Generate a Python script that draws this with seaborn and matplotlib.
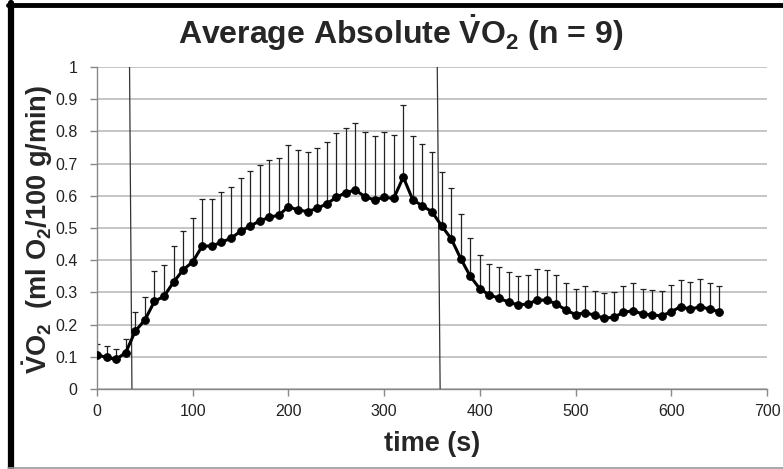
import numpy as np
import pandas as pd
import matplotlib
matplotlib.use("Agg")
import matplotlib.pyplot as plt
import seaborn as sns
from matplotlib.lines import Line2D

# ---- data ----
time_s = list(range(0, 660, 10))
vo2_mean = [0.106, 0.098, 0.092, 0.113, 0.180, 0.214, 0.272, 0.288, 0.332, 0.370,
            0.395, 0.444, 0.444, 0.456, 0.468, 0.490, 0.506, 0.522, 0.533, 0.540,
            0.566, 0.556, 0.551, 0.561, 0.575, 0.595, 0.610, 0.618, 0.597, 0.587,
            0.595, 0.592, 0.658, 0.587, 0.569, 0.550, 0.507, 0.467, 0.405, 0.350,
            0.311, 0.292, 0.282, 0.270, 0.261, 0.264, 0.276, 0.276, 0.264, 0.245,
            0.231, 0.237, 0.229, 0.220, 0.223, 0.238, 0.243, 0.233, 0.230, 0.227,
            0.240, 0.256, 0.247, 0.256, 0.248, 0.240]
vo2_upper = [0.141, 0.133, 0.125, 0.154, 0.240, 0.287, 0.365, 0.386, 0.443, 0.490,
             0.530, 0.591, 0.591, 0.612, 0.627, 0.654, 0.678, 0.696, 0.712, 0.718,
             0.759, 0.743, 0.735, 0.750, 0.768, 0.794, 0.812, 0.825, 0.799, 0.785,
             0.797, 0.790, 0.881, 0.785, 0.762, 0.735, 0.675, 0.623, 0.543, 0.470,
             0.417, 0.388, 0.378, 0.364, 0.352, 0.354, 0.372, 0.370, 0.355, 0.328,
             0.312, 0.320, 0.305, 0.298, 0.301, 0.320, 0.328, 0.312, 0.308, 0.304,
             0.323, 0.340, 0.332, 0.343, 0.330, 0.320]
phase_x_top = [34.0, 355.5]
phase_x_bottom = [36.5, 358.5]
x_ticks = [0, 100, 200, 300, 400, 500, 600, 700]
y_ticks = [0, 0.1, 0.2, 0.3, 0.4, 0.5, 0.6, 0.7, 0.8, 0.9, 1.0]
y_tick_labels = ["0", "0.1", "0.2", "0.3", "0.4", "0.5", "0.6", "0.7", "0.8", "0.9", "1"]

df = pd.DataFrame({"time": time_s, "vo2": vo2_mean, "upper": vo2_upper})

sns.set_theme(style="white")
plt.rcParams["font.family"] = ["Liberation Sans", "DejaVu Sans"]
plt.rcParams["mathtext.fontset"] = "custom"
plt.rcParams["mathtext.rm"] = "Liberation Sans:bold"
plt.rcParams["mathtext.it"] = "Liberation Sans:bold"
plt.rcParams["mathtext.bf"] = "Liberation Sans:bold"

fig = plt.figure(figsize=(7.83, 4.69), dpi=100)
ax = fig.add_axes([97 / 783, 1 - 389 / 469, 670 / 783, 322 / 469])

# grid
ax.set_axisbelow(True)
ax.yaxis.grid(True, color="#c0c0c0", linewidth=1.3)
ax.xaxis.grid(False)

# error bars (upward only)
err_low = np.zeros(len(df))
err_up = df["upper"].values - df["vo2"].values
ax.errorbar(df["time"], df["vo2"], yerr=[err_low, err_up], fmt="none",
            ecolor="#222222", elinewidth=0.9, capsize=2.5, capthick=0.9, zorder=2)

sns.lineplot(data=df, x="time", y="vo2", ax=ax, color="black", linewidth=2.2,
             marker="o", markersize=5.5, markeredgecolor="black", zorder=3)

# phase lines
for xt, xb in zip(phase_x_top, phase_x_bottom):
    ax.plot([xb, xt], [0, 1], color="#333333", linewidth=0.9, zorder=2)

ax.set_xlim(0, 700)
ax.set_ylim(0, 1)
ax.set_xticks(x_ticks)
ax.set_yticks(y_ticks)
ax.set_yticklabels(y_tick_labels)
ax.tick_params(axis="both", labelsize=11.5, colors="#888888", labelcolor="#222222",
               length=5, width=1, direction="out")
ax.tick_params(axis="x", pad=6)
ax.tick_params(axis="y", pad=9)
ax.xaxis.set_ticks_position("bottom")
ax.yaxis.set_ticks_position("left")
for s in ["top", "right"]:
    ax.spines[s].set_visible(False)
for s in ["left", "bottom"]:
    ax.spines[s].set_color("#888888")
    ax.spines[s].set_linewidth(1)
ax.set_xlabel("")
ax.set_ylabel("")

fig.text(401 / 783, 1 - 33 / 469, r"Average Absolute $\dot{\mathrm{V}}\mathrm{O}_2$ (n = 9)",
         ha="center", va="center", fontsize=23, fontweight="bold")
fig.text(38 / 783, 1 - 229 / 469, r"$\dot{\mathrm{V}}\mathrm{O}_2$  (ml O$_2$/100 g/min)",
         ha="center", va="center", rotation=90, fontsize=19.5, fontweight="bold")
fig.text(432 / 783, 1 - 444 / 469, "time (s)", ha="center", va="center",
         fontsize=19.5, fontweight="bold")

# outer frame
fig.add_artist(Line2D([8 / 783, 1], [1 - 5 / 469, 1 - 5 / 469], color="black",
                      linewidth=3.5, transform=fig.transFigure))
fig.add_artist(Line2D([11 / 783, 11 / 783], [1 - 3 / 469, 1 - 468 / 469], color="black",
                      linewidth=4.5, transform=fig.transFigure))
fig.add_artist(Line2D([8 / 783, 1], [1 - 467.5 / 469, 1 - 467.5 / 469], color="#999999",
                      linewidth=1.2, transform=fig.transFigure))

fig.savefig("out.png", dpi=100)
